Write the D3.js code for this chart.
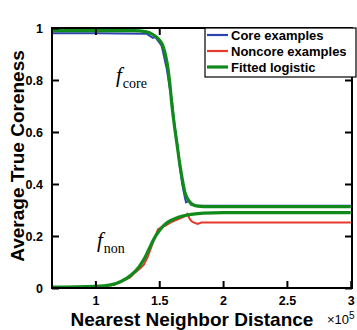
<!DOCTYPE html>
<html>
<head>
<meta charset="utf-8">
<script src="https://cdn.jsdelivr.net/npm/d3@7"></script>
<style>
body { margin:0; background:#fff; }
text { font-family: "Liberation Sans", Arial, sans-serif; }
</style>
</head>
<body>
<div id="chart"></div>
<script>
// data (x in units of 1e5)
var coreX   = [0.66, 1.0, 1.4, 1.45, 1.47, 1.5, 1.52, 1.54, 1.56, 1.58, 1.6, 1.62, 1.64, 1.66, 1.68, 1.7, 1.71, 1.73, 1.75, 1.78, 3.0];
var coreY   = [0.98, 0.98, 0.978, 0.962, 0.965, 0.945, 0.93, 0.885, 0.84, 0.775, 0.72, 0.625, 0.56, 0.47, 0.40, 0.35, 0.33, 0.335, 0.32, 0.317, 0.316];
var nonX    = [0.66, 1.0, 1.15, 1.22, 1.27, 1.3, 1.35, 1.38, 1.41, 1.44, 1.47, 1.49, 1.52, 1.55, 1.6, 1.65, 1.7, 1.72, 1.74, 1.76, 1.8, 1.83, 3.0];
var nonY    = [0.003, 0.005, 0.012, 0.03, 0.04, 0.055, 0.075, 0.09, 0.12, 0.16, 0.2, 0.225, 0.235, 0.24, 0.255, 0.265, 0.275, 0.285, 0.265, 0.254, 0.246, 0.252, 0.252];
var fitCoreX = [0.66, 1.3, 1.4, 1.45, 1.5, 1.53, 1.56, 1.58, 1.6, 1.62, 1.64, 1.66, 1.68, 1.7, 1.72, 1.75, 1.8, 1.9, 3.0];
var fitCoreY = [0.99, 0.99, 0.985, 0.975, 0.955, 0.93, 0.87, 0.80, 0.70, 0.62, 0.55, 0.48, 0.42, 0.37, 0.345, 0.325, 0.315, 0.313, 0.313];
var fitNonX  = [0.66, 1.0, 1.12, 1.2, 1.28, 1.34, 1.38, 1.42, 1.46, 1.5, 1.54, 1.6, 1.65, 1.7, 1.75, 1.85, 2.0, 3.0];
var fitNonY  = [0.003, 0.006, 0.012, 0.025, 0.05, 0.08, 0.11, 0.15, 0.19, 0.22, 0.243, 0.262, 0.272, 0.279, 0.283, 0.288, 0.29, 0.29];
var xTicks = [1, 1.5, 2, 2.5, 3];
var yTicks = [0, 0.2, 0.4, 0.6, 0.8, 1];
var legendNames = ["Core examples", "Noncore examples", "Fitted logistic"];

var W = 357, H = 330;
var margin = {top:28, right:5, bottom:42, left:52},
    width = W - margin.left - margin.right,
    height = H - margin.top - margin.bottom;

var blue = "#2d44ad", red = "#e8392e", green = "#118a1c";

var svg = d3.select("#chart").append("svg")
    .attr("width", W).attr("height", H);
var g = svg.append("g").attr("transform", "translate(" + margin.left + "," + margin.top + ")");

var x = d3.scaleLinear().domain([0.66, 3.01]).range([0, width]);
var y = d3.scaleLinear().domain([0, 1]).range([height, 0]);

g.append("clipPath").attr("id", "clip")
  .append("rect").attr("width", width).attr("height", height);

function zip(xs, ys){ return xs.map(function(v,i){ return [v, ys[i]]; }); }
var line = d3.line().x(d => x(d[0])).y(d => y(d[1]));
var smooth = d3.line().x(d => x(d[0])).y(d => y(d[1])).curve(d3.curveMonotoneX);

var plot = g.append("g").attr("clip-path", "url(#clip)");
plot.append("path").datum(zip(coreX, coreY)).attr("d", line)
    .attr("fill", "none").attr("stroke", blue).attr("stroke-width", 2);
plot.append("path").datum(zip(nonX, nonY)).attr("d", line)
    .attr("fill", "none").attr("stroke", red).attr("stroke-width", 2);
plot.append("path").datum(zip(fitCoreX, fitCoreY)).attr("d", smooth)
    .attr("fill", "none").attr("stroke", green).attr("stroke-width", 3.2);
plot.append("path").datum(zip(fitNonX, fitNonY)).attr("d", smooth)
    .attr("fill", "none").attr("stroke", green).attr("stroke-width", 3.2);

// axes, ticks pointing inward
function styleAxis(sel){
  sel.select(".domain").remove();
  sel.selectAll(".tick line").attr("stroke", "#000").attr("stroke-width", 2);
  sel.selectAll(".tick text").attr("fill", "#000")
     .style("font-size", "12.5px").style("font-weight", "bold");
}
g.append("g").attr("transform", "translate(0," + height + ")")
  .call(d3.axisBottom(x).tickValues(xTicks).tickFormat(d3.format("")).tickSizeInner(-7).tickSizeOuter(0).tickPadding(8))
  .call(styleAxis);
g.append("g")
  .call(d3.axisTop(x).tickValues(xTicks).tickFormat("").tickSizeInner(-7).tickSizeOuter(0))
  .call(styleAxis);
g.append("g")
  .call(d3.axisLeft(y).tickValues(yTicks).tickFormat(d3.format("")).tickSizeInner(-7).tickSizeOuter(0).tickPadding(9))
  .call(styleAxis);
g.append("g").attr("transform", "translate(" + width + ",0)")
  .call(d3.axisRight(y).tickValues(yTicks).tickFormat("").tickSizeInner(-7).tickSizeOuter(0))
  .call(styleAxis);

g.append("rect").attr("width", width).attr("height", height)
  .attr("fill", "none").attr("stroke", "#000").attr("stroke-width", 2);

// titles
svg.append("text").attr("x", 192).attr("y", 326).attr("text-anchor", "middle")
  .style("font-size", "19px").style("font-weight", "bold").text("Nearest Neighbor Distance");
var mult = svg.append("text").attr("x", 327).attr("y", 324).style("font-size", "13px");
mult.append("tspan").text("\u00d710");
mult.append("tspan").attr("dy", -5).style("font-size", "10px").text("5");
svg.append("text").attr("transform", "translate(24," + (margin.top + height/2 - 2) + ") rotate(-90)")
  .attr("text-anchor", "middle").style("font-size", "19px").style("font-weight", "bold")
  .text("Average True Coreness");

// annotations
function fLabel(px, py, sub){
  var t = svg.append("text").attr("x", px).attr("y", py)
    .style("font-family", "'Liberation Serif', 'DejaVu Serif', serif").style("font-size", "21px");
  t.append("tspan").style("font-style", "italic").text("f");
  t.append("tspan").attr("dy", 6).attr("dx", 1).style("font-size", "14px").text(sub);
}
fLabel(116, 82, "core");
fLabel(97, 247, "non");

// legend
var lg = svg.append("g").attr("transform", "translate(205,28)");
lg.append("rect").attr("width", 151).attr("height", 49)
  .attr("fill", "#fff").attr("stroke", "#000").attr("stroke-width", 1.2);
var legendColors = [blue, red, green];
legendNames.forEach(function(name, i){
  var yy = 7 + i * 16;
  lg.append("line").attr("x1", 2).attr("x2", 23).attr("y1", yy).attr("y2", yy)
    .attr("stroke", legendColors[i]).attr("stroke-width", i == 2 ? 3.2 : 2.2);
  lg.append("text").attr("x", 26).attr("y", yy + 4.5)
    .style("font-size", "13px").style("font-weight", "bold").text(name);
});
</script>
</body>
</html>
